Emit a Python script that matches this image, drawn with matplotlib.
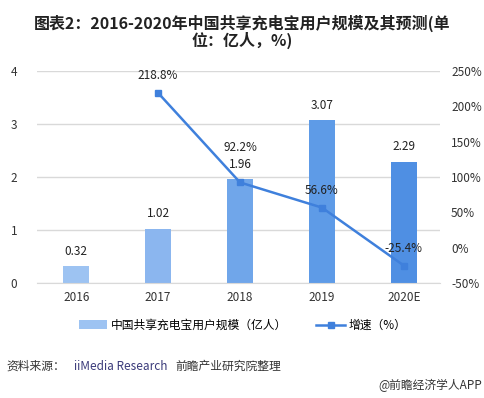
import matplotlib
matplotlib.use("Agg")
import matplotlib.pyplot as plt
from matplotlib.lines import Line2D
from matplotlib.patches import Patch

plt.rcParams['font.family'] = ['Noto Sans CJK SC', 'DejaVu Sans']

years = ["2016", "2017", "2018", "2019", "2020E"]
users = [0.32, 1.02, 1.96, 3.07, 2.29]
growth_years = ["2017", "2018", "2019", "2020E"]
growth = [218.8, 92.2, 56.6, -25.4]
left_ticks = [0, 1, 2, 3, 4]
right_ticks = [-50, 0, 50, 100, 150, 200, 250]

bar_colors = ["#9dc3f2", "#8bb6ef", "#70a6ea", "#5e9be7", "#4f8fe3"]
line_color = "#3f80dc"

fig = plt.figure(figsize=(4.85, 3.98), dpi=100)
ax = fig.add_axes([0.076, 0.289, 0.831, 0.533])
ax2 = ax.twinx()

x = list(range(len(years)))
ax.bar(x, users, width=0.32, color=bar_colors, zorder=2)
for xi, v in zip(x, users):
    ax.text(xi, v + 0.16, f"{v:.2f}", ha="center", va="bottom", fontsize=8.5, color="#222222")
ax.set_ylim(0, 4)
ax.set_yticks(left_ticks)
ax.set_xlim(-0.48, 4.44)
ax.set_xticks(x)
ax.set_xticklabels(years)
ax.grid(axis="y", color="#d9d9d9", linewidth=1, zorder=0)
ax.set_axisbelow(True)
for s in ["top", "right", "left"]:
    ax.spines[s].set_visible(False)
ax.spines["bottom"].set_color("#d9d9d9")
ax.tick_params(axis="both", length=0, labelsize=8.5, colors="#333333")
ax.tick_params(axis="x", pad=6)
ax.tick_params(axis="y", pad=14)

gx = [years.index(g) for g in growth_years]
ax2.plot(gx, growth, color=line_color, linewidth=1.8, marker="s", markersize=5, zorder=3)
offsets = [15, 40, 15, 15]
for xi, v, off in zip(gx, growth, offsets):
    ax2.text(xi, v + off, f"{v:.1f}%", ha="center", va="bottom", fontsize=8.5, color="#222222")
ax2.set_ylim(-50, 250)
ax2.set_yticks(right_ticks)
ax2.set_yticklabels([f"{t}%" for t in right_ticks])
for s in ["top", "right", "left", "bottom"]:
    ax2.spines[s].set_visible(False)
ax2.tick_params(axis="y", length=0, labelsize=8.5, colors="#333333", pad=8)

fig.text(0.5, 0.962, "图表2：2016-2020年中国共享充电宝用户规模及其预测(单\n位：亿人，%)",
         ha="center", va="top", fontsize=11.5, fontweight="bold", color="#222222", linespacing=0.95)

handles = [Patch(facecolor="#9dc3f2"),
           Line2D([0], [0], color=line_color, linewidth=1.8, marker="s", markersize=5)]
fig.legend(handles, ["中国共享充电宝用户规模（亿人）", "增速（%）"], loc="center",
           bbox_to_anchor=(0.5, 0.183), ncol=2, frameon=False, fontsize=8.5,
           handlelength=2.4, columnspacing=2.5, handletextpad=0.3)

fig.text(0.014, 0.08, "资料来源：", fontsize=8.5, color="#333333", va="center")
fig.text(0.152, 0.08, "iiMedia Research", fontsize=8.5, color="#3a3a7a", va="center")
fig.text(0.362, 0.08, "前瞻产业研究院整理", fontsize=8.5, color="#333333", va="center")
fig.text(0.995, 0.032, "@前瞻经济学人APP", fontsize=8.5, color="#333333", va="center", ha="right")

fig.savefig("out.png", dpi=100)
